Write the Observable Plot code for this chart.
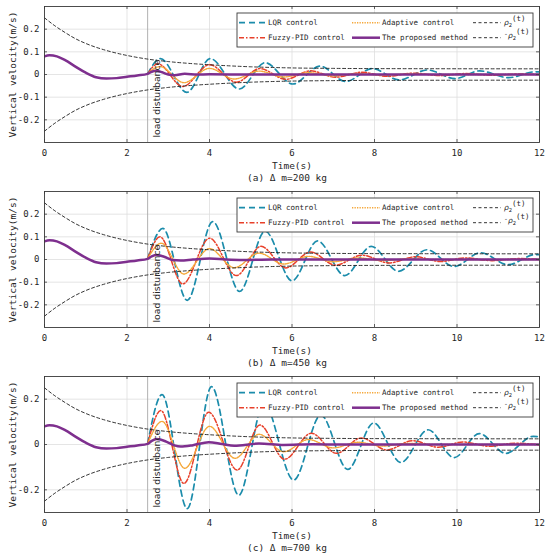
<!DOCTYPE html>
<html>
<head>
<meta charset="utf-8">
<script src="https://cdn.jsdelivr.net/npm/d3@7"></script>
<script src="https://cdn.jsdelivr.net/npm/@observablehq/plot@0.6"></script>
<style>
  body { margin: 0; background: #fff; }
  #chart svg { display: block; }
</style>
</head>
<body>
<div id="chart"></div>
<script>
// ---------- labels & ticks ----------
const xTicks = [0, 2, 4, 6, 8, 10, 12];
const yTicksAB = [-0.2, -0.1, 0, 0.1, 0.2];
const yTicksC = [-0.2, 0, 0.2];
const xLabel = "Time(s)";
const yLabel = "Vertical velocity(m/s)";
const eventLabel = "load disturbance";
const eventTime = 2.5;
const captions = ["(a) Δ m=200 kg", "(b) Δ m=450 kg", "(c) Δ m=700 kg"];
const seriesNames = ["LQR control", "Fuzzy-PID control", "Adaptive control", "The proposed method"];

// ---------- prescribed performance bound rho2(t) ----------
const boundT = [0, 0.25, 0.5, 0.75, 1, 1.5, 2, 2.5, 3, 3.5, 4, 4.5, 5, 6, 7, 8, 12];
const boundV = [0.25, 0.215, 0.185, 0.158, 0.137, 0.106, 0.084, 0.068, 0.057, 0.049, 0.043, 0.038, 0.034, 0.029, 0.027, 0.026, 0.025];

// ---------- common response before the disturbance ----------
const preT = [0, 0.12, 0.3, 0.5, 0.75, 1.0, 1.25, 1.5, 1.75, 2.0, 2.25, 2.5];
const preV = [0.08, 0.085, 0.08, 0.063, 0.035, 0.008, -0.012, -0.018, -0.016, -0.01, -0.004, 0.003];

// ---------- (a) Δm = 200 kg ----------
const lqrA = [[2.5,0.003],[2.81,0.07],[3.45,-0.079],[4.02,0.07],[4.72,-0.064],[5.35,0.052],[6.02,-0.042],[6.68,0.037],[7.3,-0.031],[7.95,0.026],[8.6,-0.024],[9.28,0.02],[9.95,-0.018],[10.55,0.016],[11.25,-0.014],[11.9,0.012],[12,0.011]];
const fuzzyA = [[2.5,0.003],[2.75,0.047],[3.35,-0.053],[4.0,0.043],[4.65,-0.034],[5.22,0.026],[5.85,-0.021],[6.45,0.016],[7.05,-0.012],[7.7,0.01],[8.3,-0.008],[8.95,0.006],[9.6,-0.005],[10.2,0.004],[10.85,-0.003],[11.5,0.002],[12,0]];
const adaptA = [[2.5,0.003],[2.8,0.035],[3.38,-0.036],[4.0,0.027],[4.6,-0.02],[5.2,0.015],[5.8,-0.011],[6.4,0.008],[7.0,-0.006],[7.6,0.004],[8.2,-0.003],[8.8,0.002],[9.5,0],[12,0]];
const propA = [[2.6,0.012],[2.7,0.016],[2.85,0.01],[3.0,0.0],[3.15,-0.003],[3.4,0.003],[3.7,0.0],[4.0,0.001],[5,0],[12,0]];

// ---------- (b) Δm = 450 kg ----------
const lqrB = [[2.5,0.003],[2.87,0.137],[3.46,-0.18],[4.08,0.167],[4.73,-0.141],[5.35,0.125],[6.0,-0.094],[6.62,0.082],[7.28,-0.071],[7.92,0.058],[8.58,-0.052],[9.27,0.043],[9.93,-0.031],[10.57,0.03],[11.24,-0.023],[11.9,0.022],[12,0.021]];
const fuzzyB = [[2.5,0.003],[2.8,0.1],[3.35,-0.108],[4.0,0.094],[4.65,-0.071],[5.25,0.058],[5.85,-0.037],[6.45,0.033],[7.05,-0.025],[7.7,0.019],[8.35,-0.015],[9.0,0.012],[9.6,-0.009],[10.2,0.007],[10.85,-0.005],[11.5,0.004],[12,0]];
const adaptB = [[2.5,0.003],[2.83,0.072],[3.38,-0.064],[4.0,0.048],[4.6,-0.036],[5.2,0.028],[5.8,-0.02],[6.4,0.014],[7.0,-0.01],[7.6,0.007],[8.2,-0.005],[8.8,0.003],[9.5,0],[12,0]];
const propB = [[2.6,0.014],[2.72,0.02],[2.9,0.012],[3.1,-0.002],[3.3,-0.004],[3.6,0.0],[4.0,0.004],[4.4,0.0],[4.8,-0.002],[5.5,0],[12,0]];

// ---------- (c) Δm = 700 kg ----------
const lqrC = [[2.5,0.003],[2.85,0.22],[3.46,-0.283],[4.05,0.255],[4.71,-0.224],[5.32,0.18],[6.04,-0.157],[6.7,0.13],[7.35,-0.11],[7.98,0.095],[8.64,-0.079],[9.3,0.065],[9.93,-0.058],[10.54,0.048],[11.18,-0.039],[11.85,0.036],[12,0.033]];
const fuzzyC = [[2.5,0.003],[2.82,0.15],[3.38,-0.172],[3.98,0.142],[4.67,-0.113],[5.22,0.086],[5.82,-0.065],[6.47,0.05],[7.08,-0.039],[7.68,0.029],[8.3,-0.024],[8.92,0.017],[9.55,-0.012],[10.15,0.011],[10.8,-0.008],[11.4,0.006],[12,-0.002]];
const adaptC = [[2.5,0.003],[2.85,0.102],[3.4,-0.105],[4.0,0.08],[4.62,-0.061],[5.2,0.045],[5.8,-0.032],[6.4,0.022],[7.0,-0.015],[7.6,0.01],[8.2,-0.007],[8.8,0.005],[9.5,0],[12,0]];
const propC = [[2.6,0.016],[2.72,0.024],[2.95,0.013],[3.15,-0.004],[3.3,-0.009],[3.6,-0.003],[3.98,0.01],[4.3,0.002],[4.6,-0.006],[5.2,0.004],[5.8,-0.002],[6.5,0.001],[7.2,0],[12,0]];

// ---------- styles ----------
const STY = {
  lqr:   {stroke: "#1b8cab", strokeWidth: 1.7, strokeDasharray: "6,4"},
  fuzzy: {stroke: "#e8402a", strokeWidth: 1.5, strokeDasharray: "5,2,1.5,2"},
  adapt: {stroke: "#f5a83a", strokeWidth: 1.4, strokeDasharray: "1.3,1.2"},
  prop:  {stroke: "#7e2f8e", strokeWidth: 2.5},
  bound: {stroke: "#1e1e1e", strokeWidth: 0.9, strokeDasharray: "3,2.5"}
};

const W = 550, H = 185, MT = 6, MB = 43, ML = 44, MR = 11;
const FH = H - MT - MB, FW = W - ML - MR;
const MONO = "DejaVu Sans Mono";
const fmt = d => d === 0 ? "0" : d.toFixed(1);

const pre = preT.map((t, i) => [t, preV[i]]);
const upper = boundT.map((t, i) => [t, boundV[i]]);
const lower = boundT.map((t, i) => [t, -boundV[i]]);

const panels = [
  {lqr: lqrA, fuzzy: fuzzyA, adapt: adaptA, prop: propA, yTicks: yTicksAB, caption: captions[0]},
  {lqr: lqrB, fuzzy: fuzzyB, adapt: adaptB, prop: propB, yTicks: yTicksAB, caption: captions[1]},
  {lqr: lqrC, fuzzy: fuzzyC, adapt: adaptC, prop: propC, yTicks: yTicksC, caption: captions[2]}
];

const lineOpts = (s) => ({x: d => d[0], y: d => d[1], curve: "monotone-x", clip: true, ...s});

function drawPanel(p) {
  const svg = Plot.plot({
    width: W, height: H,
    marginTop: MT, marginBottom: MB, marginLeft: ML, marginRight: MR,
    x: {domain: [0, 12]},
    y: {domain: [-0.3, 0.3]},
    style: {fontFamily: MONO, fontSize: "9px", color: "#262626", background: "#fff", overflow: "visible"},
    marks: [
      Plot.gridX(xTicks, {stroke: "#dedede", strokeOpacity: 1, strokeWidth: 0.8}),
      Plot.gridY(p.yTicks, {stroke: "#dedede", strokeOpacity: 1, strokeWidth: 0.8}),
      Plot.ruleX([eventTime], {stroke: "#a8a8a8", strokeWidth: 0.9}),
      Plot.line(p.lqr, lineOpts(STY.lqr)),
      Plot.line(p.fuzzy, lineOpts(STY.fuzzy)),
      Plot.line(p.adapt, lineOpts(STY.adapt)),
      Plot.line(upper, lineOpts(STY.bound)),
      Plot.line(lower, lineOpts(STY.bound)),
      Plot.line(pre.concat(p.prop), lineOpts(STY.prop)),
      Plot.frame({stroke: "#3a3a3a", strokeWidth: 0.9}),
      Plot.ruleX(xTicks, {insetTop: FH - 3, stroke: "#3a3a3a", strokeWidth: 0.8}),
      Plot.ruleX(xTicks, {insetBottom: FH - 3, stroke: "#3a3a3a", strokeWidth: 0.8}),
      Plot.ruleY(p.yTicks, {insetRight: FW - 3, stroke: "#3a3a3a", strokeWidth: 0.8}),
      Plot.ruleY(p.yTicks, {insetLeft: FW - 3, stroke: "#3a3a3a", strokeWidth: 0.8}),
      Plot.axisX(xTicks, {tickSize: 0, tickPadding: 7, label: null, tickFormat: d => String(d), fontSize: 9}),
      Plot.axisY(p.yTicks, {tickSize: 0, tickPadding: 5, label: null, tickFormat: fmt, fontSize: 9}),
      Plot.text([yLabel], {text: d => d, frameAnchor: "left", dx: -32, rotate: -90,
        textAnchor: "middle", lineAnchor: "middle", fontSize: 9.5, fill: "#262626"}),
      Plot.text([xLabel], {text: d => d, frameAnchor: "bottom", dy: 23,
        textAnchor: "middle", lineAnchor: "middle", fontSize: 9.5, fill: "#262626"}),
      Plot.text([p.caption], {text: d => d, frameAnchor: "bottom", dy: 35, dx: -5,
        textAnchor: "middle", lineAnchor: "middle", fontSize: 9.5, fill: "#262626"}),
      Plot.text([eventLabel], {text: d => d, x: eventTime, frameAnchor: "bottom", dx: 9, dy: -5, rotate: -90,
        textAnchor: "start", lineAnchor: "middle", fontFamily: "DejaVu Sans", fontSize: 9.3, fill: "#262626"})
    ]
  });

  // legend box (layout in pixels)
  const g = d3.select(svg).append("g")
    .attr("font-family", MONO).attr("font-size", 7.5).attr("fill", "#262626")
    .attr("text-anchor", "start");
  const bx = 237, by = 13, bw = 296, bh = 34;
  g.append("rect").attr("x", bx).attr("y", by).attr("width", bw).attr("height", bh)
    .attr("fill", "#fff").attr("stroke", "#3a3a3a").attr("stroke-width", 0.9);
  const rows = [22.7, 37.7];
  const cols = [{x0: 239, len: 26, tx: 268}, {x0: 352, len: 28, tx: 382}, {x0: 473, len: 28, tx: 504}];
  const items = [
    {c: 0, r: 0, s: STY.lqr, label: seriesNames[0]},
    {c: 0, r: 1, s: STY.fuzzy, label: seriesNames[1]},
    {c: 1, r: 0, s: STY.adapt, label: seriesNames[2]},
    {c: 1, r: 1, s: STY.prop, label: seriesNames[3]},
    {c: 2, r: 0, s: STY.bound, label: null, neg: false},
    {c: 2, r: 1, s: STY.bound, label: null, neg: true}
  ];
  for (const it of items) {
    const col = cols[it.c], y = rows[it.r];
    g.append("line").attr("x1", col.x0).attr("x2", col.x0 + col.len).attr("y1", y).attr("y2", y)
      .attr("stroke", it.s.stroke).attr("stroke-width", it.s.strokeWidth)
      .attr("stroke-dasharray", it.s.strokeDasharray || null);
    const t = g.append("text").attr("x", col.tx).attr("y", y).attr("dy", "0.35em").attr("text-anchor", "start");
    if (it.label) {
      t.text(it.label);
    } else {
      if (it.neg) t.append("tspan").attr("dy", "-0.25em").attr("font-size", 6.5).text("-");
      t.append("tspan").attr("dy", it.neg ? "0.25em" : null).attr("font-family", "DejaVu Sans").attr("font-style", "italic").text("ρ");
      t.append("tspan").attr("dy", "0.3em").attr("font-size", 5.5).text("2");
      t.append("tspan").attr("dy", "-0.75em").text("(t)");
    }
  }
  return svg;
}

const root = document.getElementById("chart");
for (const p of panels) root.appendChild(drawPanel(p));
</script>
</body>
</html>
